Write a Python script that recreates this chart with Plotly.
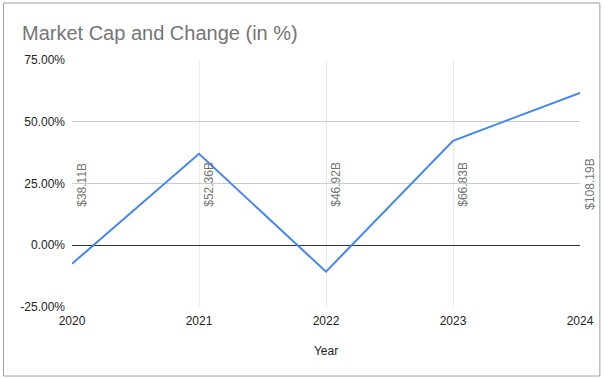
import plotly.graph_objects as go

years = [2020, 2021, 2022, 2023, 2024]
change_pct = [-7.5, 37.0, -10.7, 42.3, 61.7]
market_cap_labels = ["$38.11B", "$52.36B", "$46.92B", "$66.83B", "$108.19B"]
label_y = 24.5

y_ticks = [-25, 0, 25, 50, 75]
y_tick_text = ["-25.00%", "0.00%", "25.00%", "50.00%", "75.00%"]

fig = go.Figure()
fig.add_trace(go.Scatter(
    x=years, y=change_pct, mode="lines",
    line=dict(color="#4285F4", width=2),
    hoverinfo="skip", showlegend=False, cliponaxis=False,
))

for yr, lab in zip(years, market_cap_labels):
    fig.add_annotation(
        x=yr, y=label_y, xref="x", yref="y", text=lab, textangle=-90,
        showarrow=False, xshift=10,
        font=dict(family="Liberation Sans, Arial", size=12, color="#757575"),
    )

L, R, T, B = 72, 584, 60, 307
W, H = R - L, B - T
bx0, bx1, by0, by1 = 3, 604, 3, 376
fig.add_shape(
    type="rect", xref="paper", yref="paper",
    x0=(bx0 - L) / W, x1=(bx1 - L) / W,
    y0=(B - by1) / H, y1=(B - by0) / H,
    line=dict(color="#9e9e9e", width=1), layer="below",
)

fig.update_layout(
    width=606, height=378,
    margin=dict(l=L, r=606 - R, t=T, b=378 - B),
    paper_bgcolor="white", plot_bgcolor="white",
    title=dict(
        text="Market Cap and Change (in %)",
        x=22 / 606, xref="container", xanchor="left",
        y=1 - 33 / 378, yref="container", yanchor="middle",
        font=dict(family="Liberation Sans, Arial", size=20, color="#757575"),
    ),
    font=dict(family="Liberation Sans, Arial", size=12, color="#222222"),
    xaxis=dict(
        range=[2020, 2024], tickvals=years, ticktext=[str(y) for y in years],
        showgrid=True, gridcolor="#ebebeb", zeroline=False,
        showline=False, ticks="", ticklabelstandoff=5,
        title=dict(text="Year", font=dict(size=12, color="#222222"), standoff=19),
        tickfont=dict(size=12, color="#222222"),
    ),
    yaxis=dict(
        range=[-25, 75], tickvals=y_ticks, ticktext=y_tick_text,
        showgrid=True, gridcolor="#cccccc", zeroline=True,
        zerolinecolor="#333333", zerolinewidth=1,
        showline=False, ticks="", ticklabelstandoff=6,
        tickfont=dict(size=12, color="#222222"),
    ),
)

fig.write_html(
    "out.html",
    config={"displayModeBar": False},
    post_script="document.body.style.margin='0';document.body.style.overflow='hidden';",
)
